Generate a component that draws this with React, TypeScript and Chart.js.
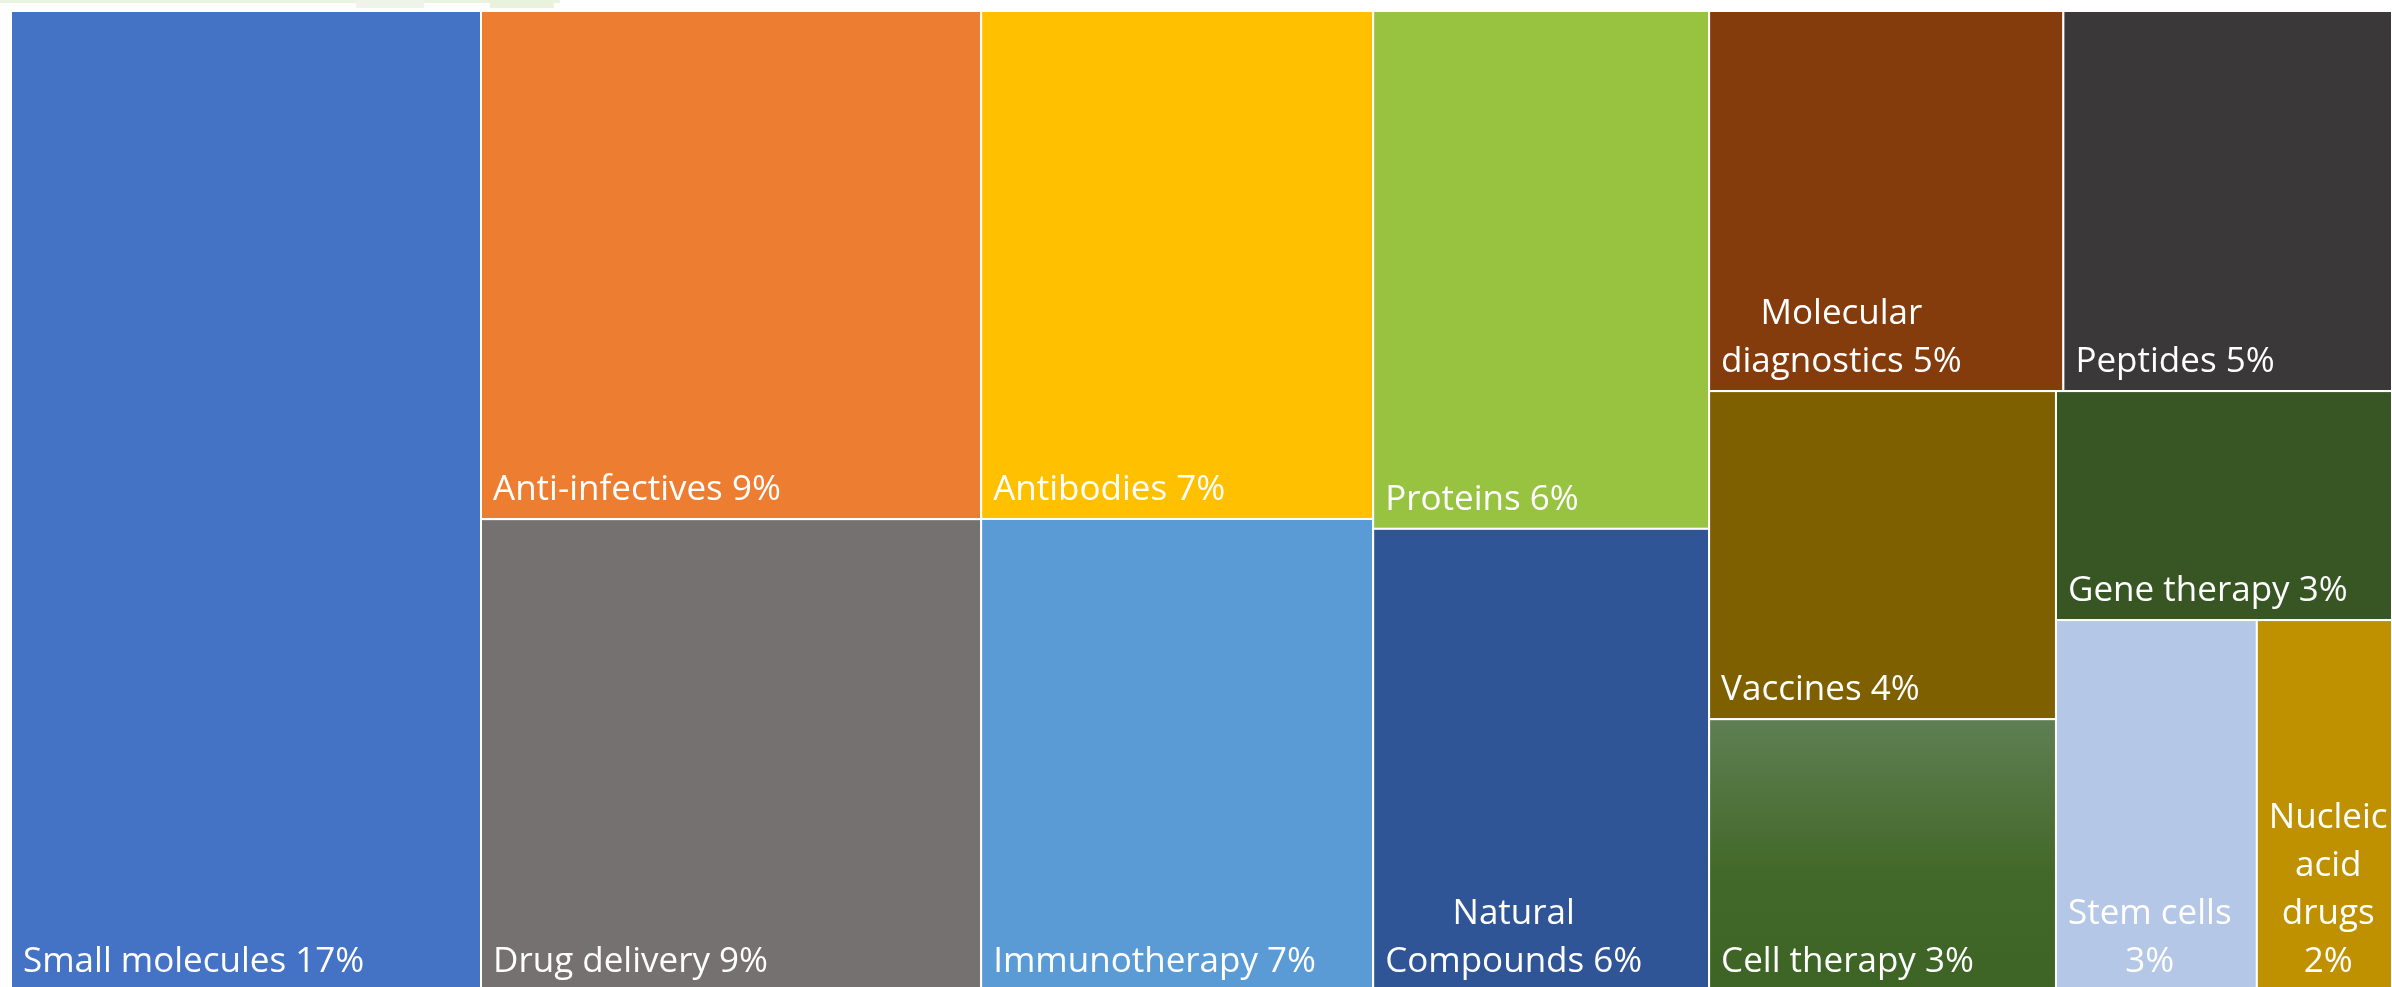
import React, { useEffect, useRef } from "react";
import { Chart, registerables } from "chart.js";

Chart.register(...registerables);

// ---- data ----
const categories = [
  "Small molecules",
  "Anti-infectives",
  "Drug delivery",
  "Antibodies",
  "Immunotherapy",
  "Proteins",
  "Natural Compounds",
  "Molecular diagnostics",
  "Peptides",
  "Vaccines",
  "Cell therapy",
  "Gene therapy",
  "Stem cells",
  "Nucleic acid drugs",
];
const shares = [17.0, 9.38, 8.71, 7.35, 6.83, 6.42, 5.73, 4.97, 4.61, 4.2, 3.48, 2.84, 2.75, 1.85];
const pctLabels = ["17%", "9%", "9%", "7%", "7%", "6%", "6%", "5%", "5%", "4%", "3%", "3%", "3%", "2%"];
const colors = [
  "#4472c4",
  "#ed7d31",
  "#767171",
  "#ffc000",
  "#5b9bd5",
  "#98c341",
  "#2f5597",
  "#843c0c",
  "#3a3838",
  "#7f6000",
  "gradient",
  "#375623",
  "#b4c7e7",
  "#bf9000",
];
// grouping of items into strips (squarified rows/columns)
const strips = [[0], [1, 2], [3, 4], [5, 6], [7, 8], [9, 10], [11], [12, 13]];

type R = { x: number; y: number; w: number; h: number };

function layout(values: number[], groups: number[][], W: number, H: number): R[] {
  const total = values.reduce((a, b) => a + b, 0);
  const unit = (W * H) / total;
  let x = 0, y = 0, w = W, h = H;
  const rects: R[] = [];
  for (const g of groups) {
    const s = g.reduce((a, i) => a + values[i], 0);
    const area = s * unit;
    if (w >= h) {
      const cw = area / h;
      let yy = y;
      for (const i of g) {
        const ch = (values[i] * unit) / cw;
        rects[i] = { x, y: yy, w: cw, h: ch };
        yy += ch;
      }
      x += cw;
      w -= cw;
    } else {
      const rh = area / w;
      let xx = x;
      for (const i of g) {
        const cw = (values[i] * unit) / rh;
        rects[i] = { x: xx, y, w: cw, h: rh };
        xx += cw;
      }
      y += rh;
      h -= rh;
    }
  }
  return rects;
}

const FONT = "35px 'Open Sans', 'Noto Sans', sans-serif";
const PAD = 12;
const LINE_H = 48;
const BOTTOM_OFF = 19;

function wrap(ctx: CanvasRenderingContext2D, text: string, maxW: number): string[] {
  const words = text.split(" ");
  const lines: string[] = [];
  let cur = "";
  for (const wd of words) {
    const test = cur ? cur + " " + wd : wd;
    if (!cur || ctx.measureText(test).width <= maxW) cur = test;
    else {
      lines.push(cur);
      cur = wd;
    }
  }
  if (cur) lines.push(cur);
  return lines;
}

const treemapPlugin = {
  id: "treemapCells",
  afterDatasetsDraw(chart: any) {
    const ctx: CanvasRenderingContext2D = chart.ctx;
    const xs = chart.scales.x;
    const ys = chart.scales.y;
    const W = xs.getPixelForValue(1) - xs.getPixelForValue(0);
    const H = ys.getPixelForValue(1) - ys.getPixelForValue(0);
    const rects = layout(shares, strips, W, H);
    ctx.save();
    rects.forEach((r, i) => {
      const x0 = xs.getPixelForValue(r.x / W);
      const x1 = xs.getPixelForValue((r.x + r.w) / W);
      const y0 = ys.getPixelForValue(r.y / H);
      const y1 = ys.getPixelForValue((r.y + r.h) / H);
      let fill: any = colors[i];
      if (fill === "gradient") {
        const g = ctx.createLinearGradient(0, y0, 0, y1);
        g.addColorStop(0, "#5f7f53");
        g.addColorStop(0.55, "#43692a");
        g.addColorStop(1, "#3d6424");
        fill = g;
      }
      ctx.fillStyle = fill;
      ctx.fillRect(x0, y0, x1 - x0, y1 - y0);
      ctx.strokeStyle = "#ffffff";
      ctx.lineWidth = 2;
      ctx.strokeRect(x0, y0, x1 - x0, y1 - y0);
    });
    ctx.font = FONT;
    ctx.fillStyle = "#ffffff";
    ctx.textAlign = "left";
    ctx.textBaseline = "alphabetic";
    rects.forEach((r, i) => {
      const x0 = xs.getPixelForValue(r.x / W);
      const x1 = xs.getPixelForValue((r.x + r.w) / W);
      const y1 = ys.getPixelForValue((r.y + r.h) / H);
      const label = categories[i] + " " + pctLabels[i];
      const lines = wrap(ctx, label, x1 - x0 - 2 * PAD);
      const widths = lines.map((l) => ctx.measureText(l).width);
      const blockW = Math.max(...widths);
      const lastBase = y1 - BOTTOM_OFF;
      lines.forEach((l, k) => {
        const by = lastBase - (lines.length - 1 - k) * LINE_H;
        ctx.fillText(l, x0 + PAD + (blockW - widths[k]) / 2, by);
      });
    });
    ctx.restore();
  },
};

export default function App() {
  const ref = useRef<HTMLCanvasElement | null>(null);
  useEffect(() => {
    if (!ref.current) return;
    const chart = new Chart(ref.current, {
      type: "scatter",
      data: { datasets: [{ data: [] }] },
      options: {
        responsive: false,
        animation: false,
        devicePixelRatio: 1,
        layout: { padding: { left: 11, top: 11, right: 0, bottom: 9 } },
        plugins: { legend: { display: false }, tooltip: { enabled: false } },
        scales: {
          x: { type: "linear", min: 0, max: 1, display: false },
          y: { type: "linear", min: 0, max: 1, reverse: true, display: false },
        },
      },
      plugins: [treemapPlugin],
    });
    const fonts: any = (document as any).fonts;
    if (fonts && fonts.load) {
      fonts.load(FONT).then(() => chart.draw()).catch(() => {});
    }
    return () => chart.destroy();
  }, []);
  return (
    <div style={{ position: "fixed", left: 0, top: 0, width: "100vw", height: "100vh", overflow: "hidden", background: "#ffffff" }}>
      <div style={{ position: "absolute", left: 0, top: 0, width: 560, height: 3, background: "#eaf2e0" }} />
      <div style={{ position: "absolute", left: 356, top: 0, width: 68, height: 8, background: "#eef4e8" }} />
      <div style={{ position: "absolute", left: 490, top: 0, width: 64, height: 8, background: "#e9f2dd" }} />
      <canvas ref={ref} width={2392} height={1000} style={{ position: "absolute", left: 0, top: 0, display: "block" }} />
    </div>
  );
}
